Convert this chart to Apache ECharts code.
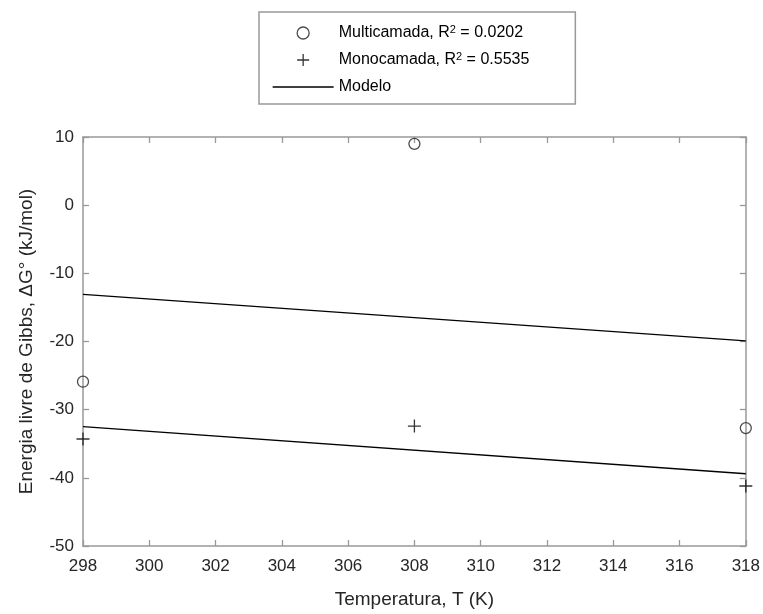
<!DOCTYPE html>
<html><head><meta charset="utf-8">
<script src="https://cdn.jsdelivr.net/npm/echarts@6/dist/echarts.min.js"></script>
<style>html,body{margin:0;padding:0;background:#fff}#c{width:763px;height:614px}</style>
</head><body><div id="c"></div>
<script>
// ---- data ----
const temperatures = [298, 308, 318];
const multicamada = [-25.9, 9.0, -32.7];
const monocamada = [-34.3, -32.4, -41.2];
const modeloX = [298, 318];
const modeloMulti = [-13.1, -19.9];
const modeloMono = [-32.5, -39.4];
const xRange = [298, 318, 2];
const yRange = [-50, 10, 10];
const seriesNames = ['Multicamada', 'Monocamada', 'Modelo'];
const r2Values = ['0.0202', '0.5535'];
const xTitle = 'Temperatura, T (K)';
const yTitle = 'Energia livre de Gibbs, \u0394G\u00B0 (kJ/mol)';

const FONT = 'Liberation Sans, Arial, sans-serif';
const AXC = '#999';
const TXT = '#262626';
const pair = (xs, ys) => xs.map((x, i) => [x, ys[i]]);
const plusPath = 'path://M0,6L12,6M6,0L6,12';

function axisBase(pos, isX, showLabel) {
  return {
    type: 'value', position: pos,
    min: isX ? xRange[0] : yRange[0],
    max: isX ? xRange[1] : yRange[1],
    interval: isX ? xRange[2] : yRange[2],
    axisLine: { show: true, onZero: false, lineStyle: { color: AXC, width: 1.5 } },
    axisTick: { show: true, inside: true, length: 6, lineStyle: { color: AXC, width: 1.3 } },
    axisLabel: { show: showLabel, color: TXT, fontSize: 17, fontFamily: FONT, margin: isX ? 12 : 9 },
    splitLine: { show: false }
  };
}

const chart = echarts.init(document.getElementById('c'), null, { renderer: 'canvas' });
const xBottom = Object.assign(axisBase('bottom', true, true), {
  name: xTitle, nameLocation: 'middle', nameGap: 44,
  nameTextStyle: { color: TXT, fontSize: 19, fontFamily: FONT }
});
const yLeft = Object.assign(axisBase('left', false, true), {
  name: yTitle, nameLocation: 'middle', nameGap: 47,
  nameTextStyle: { color: TXT, fontSize: 19, fontFamily: FONT }
});

chart.setOption({
  animation: false,
  backgroundColor: '#fff',
  grid: { left: 83, right: 17, top: 137, bottom: 68 },
  xAxis: [xBottom, axisBase('top', true, false)],
  yAxis: [yLeft, axisBase('right', false, false)],
  legend: {
    orient: 'vertical', left: 259, top: 12,
    padding: [12, 46, 8, 13],
    itemWidth: 61, itemHeight: 12, itemGap: 9, itemTextGap: 7,
    borderColor: '#999', borderWidth: 1.5, borderRadius: 0,
    backgroundColor: '#fff',
    selectedMode: false,
    textStyle: {
      color: '#000', fontSize: 16, fontFamily: FONT, lineHeight: 18,
      rich: { sup: { fontSize: 11, lineHeight: 11, verticalAlign: 'top', color: '#000', fontFamily: FONT } }
    },
    formatter: function (name) {
      const i = seriesNames.indexOf(name);
      if (i < 2) return name + ', R{sup|2} = ' + r2Values[i];
      return name;
    },
    data: [
      { name: seriesNames[0], icon: 'circle', itemStyle: { color: 'rgba(0,0,0,0)', borderColor: '#222', borderWidth: 1.3 } },
      { name: seriesNames[1], icon: 'path://M0,0M61,12M24.5,6L36.5,6M30.5,0L30.5,12', itemStyle: { color: 'rgba(0,0,0,0)', borderColor: '#000', borderWidth: 1.3 } },
      { name: seriesNames[2], itemStyle: { color: 'rgba(0,0,0,0)', borderColor: 'rgba(0,0,0,0)', borderWidth: 0 }, lineStyle: { color: '#000', width: 1.3 } }
    ]
  },
  series: [
    {
      name: seriesNames[2], type: 'line', data: pair(modeloX, modeloMulti),
      symbol: 'none', lineStyle: { color: '#000', width: 1.3 }, itemStyle: { color: '#000' }, z: 2
    },
    {
      name: seriesNames[2], type: 'line', data: pair(modeloX, modeloMono),
      symbol: 'none', lineStyle: { color: '#000', width: 1.3 }, itemStyle: { color: '#000' }, z: 2
    },
    {
      name: seriesNames[0], type: 'scatter', data: pair(temperatures, multicamada),
      symbol: 'circle', symbolSize: 11,
      itemStyle: { color: 'rgba(0,0,0,0)', borderColor: '#222', borderWidth: 1.3 }, z: 3
    },
    {
      name: seriesNames[1], type: 'scatter', data: pair(temperatures, monocamada),
      symbol: plusPath, symbolSize: 13,
      itemStyle: { color: 'rgba(0,0,0,0)', borderColor: '#000', borderWidth: 1.3 }, z: 3
    }
  ]
});
</script>
</body></html>
